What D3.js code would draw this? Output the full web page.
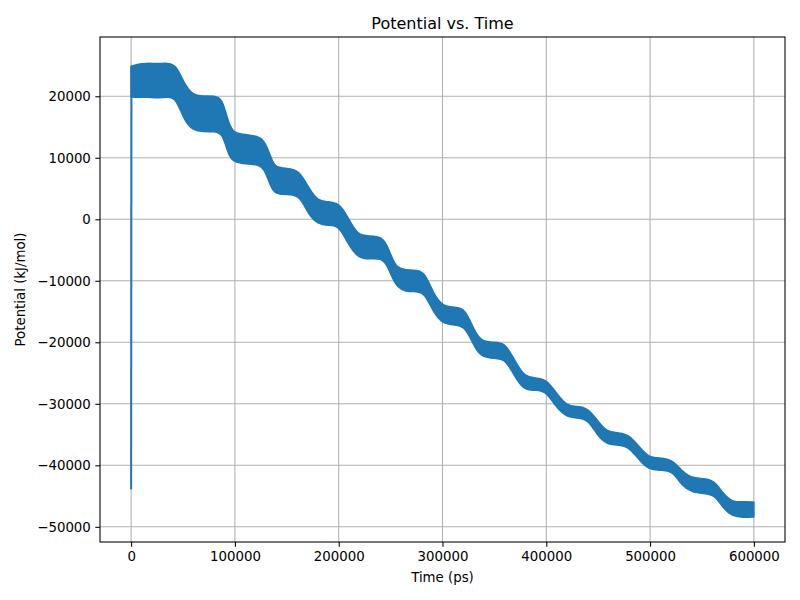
<!DOCTYPE html>
<html>
<head>
<meta charset="utf-8">
<script src="https://cdn.jsdelivr.net/npm/d3@7"></script>
<style>
  body { margin: 0; background: #fff; }
  text { font-family: "DejaVu Sans", sans-serif; fill: #000; }
</style>
</head>
<body>
<svg id="chart" width="800" height="600"></svg>
<script>
// data (time in ps, potential in kJ/mol)
const bandTime = [0, 5000, 15000, 25000, 35000, 43000, 51000, 59000, 70000, 80000,
  88000, 93000, 98000, 110000, 122000, 128000, 134000, 138000, 150000, 162000,
  171000, 180000, 190000, 200000, 208000, 218000, 230000, 242000, 248000, 255000,
  265000, 275000, 283000, 291000, 300000, 312000, 322000, 331000, 338000, 350000,
  360000, 368000, 378000, 390000, 400000, 410000, 420000, 430000, 440000, 449000,
  458000, 470000, 480000, 492000, 500000, 512000, 522000, 530000, 540000, 552000,
  562000, 570000, 579000, 590000, 600000];
const bandUpper = [24900, 25200, 25400, 25300, 25400, 25200, 22100, 20200, 20000, 20100,
  19600, 16100, 14000, 13800, 13500, 12900, 10500, 8400, 8300, 8000,
  5100, 2900, 2900, 2600, 700, -2700, -2700, -2800, -4700, -8000,
  -8200, -8300, -8600, -12000, -14200, -14300, -14500, -18300, -19900, -20000,
  -20100, -22400, -25600, -25800, -26000, -28300, -30400, -30400, -30700, -32600,
  -34600, -34700, -35000, -37500, -38800, -38800, -39200, -40800, -42100, -42100,
  -42500, -44500, -46000, -45900, -46000];
const bandLower = [19900, 19800, 19900, 19700, 19900, 19800, 16100, 14500, 14200, 14300,
  14000, 10800, 9300, 9000, 8900, 8300, 5600, 4100, 4000, 4000,
  700, -800, -1000, -1000, -3700, -6300, -6500, -6300, -7900, -11000,
  -11800, -11700, -12000, -15100, -17000, -17200, -17400, -20900, -22400, -22600,
  -22700, -25000, -27900, -27700, -28000, -30700, -32200, -32300, -32500, -35100,
  -36600, -36700, -37000, -39700, -40700, -40800, -41000, -43200, -44400, -44600,
  -44800, -46900, -48300, -48500, -48400];
// the first frames: the potential jumps up from the start value
const startTime = [0, 300];
const startValue = [-43900, 24900];

const xTicks = [0, 100000, 200000, 300000, 400000, 500000, 600000];
const yTicks = [-50000, -40000, -30000, -20000, -10000, 0, 10000, 20000];

const svg = d3.select("#chart"),
    margin = {top: 37, right: 15, bottom: 58, left: 100},
    width = +svg.attr("width") - margin.left - margin.right,
    height = +svg.attr("height") - margin.top - margin.bottom,
    blue = "#1f77b4",
    fmt = d3.format("d");

const x = d3.scaleLinear().domain([-30000, 630000]).range([0, width]);
const y = d3.scaleLinear().domain([-52470, 29640]).range([height, 0]);

const g = svg.append("g")
    .attr("transform", "translate(" + margin.left + "," + margin.top + ")");

// grid
g.append("g").selectAll("line")
    .data(xTicks)
  .enter().append("line")
    .attr("x1", d => x(d)).attr("x2", d => x(d))
    .attr("y1", 0).attr("y2", height)
    .attr("stroke", "#b0b0b0").attr("stroke-width", 1.07);
g.append("g").selectAll("line")
    .data(yTicks)
  .enter().append("line")
    .attr("y1", d => y(d)).attr("y2", d => y(d))
    .attr("x1", 0).attr("x2", width)
    .attr("stroke", "#b0b0b0").attr("stroke-width", 1.07);

// band of the noisy trace
const rows = bandTime.map((t, i) => ({t: t, hi: bandUpper[i], lo: bandLower[i]}));
const area = d3.area()
    .curve(d3.curveBasis)
    .x(d => x(d.t))
    .y0(d => y(d.lo))
    .y1(d => y(d.hi));
g.append("path")
    .datum(rows)
    .attr("d", area)
    .attr("fill", blue)
    .attr("stroke", blue)
    .attr("stroke-width", 1.5)
    .attr("stroke-linejoin", "round");

const line = d3.line()
    .x((d, i) => x(startTime[i]))
    .y(d => y(d));
g.append("path")
    .datum(startValue)
    .attr("d", line)
    .attr("fill", "none")
    .attr("stroke", blue)
    .attr("stroke-width", 2);

// axes
const xAxis = g.append("g")
    .attr("transform", "translate(0," + height + ")")
    .call(d3.axisBottom(x).tickValues(xTicks).tickFormat(fmt).tickSize(4.67).tickPadding(4.5));
const yAxis = g.append("g")
    .call(d3.axisLeft(y).tickValues(yTicks).tickFormat(fmt).tickSize(4.67).tickPadding(4.5));
[xAxis, yAxis].forEach(a => {
  a.select(".domain").remove();
  a.selectAll("line").attr("stroke", "#000").attr("stroke-width", 1.07);
  a.selectAll("text").attr("font-family", "DejaVu Sans").attr("font-size", 13.33).attr("fill", "#000");
});

// frame
g.append("rect")
    .attr("width", width).attr("height", height)
    .attr("fill", "none").attr("stroke", "#000").attr("stroke-width", 1.07);

// labels
svg.append("text")
    .attr("x", margin.left + width / 2).attr("y", 29)
    .attr("text-anchor", "middle").attr("font-size", 16)
    .text("Potential vs. Time");
svg.append("text")
    .attr("x", margin.left + width / 2).attr("y", 582)
    .attr("text-anchor", "middle").attr("font-size", 13.33)
    .text("Time (ps)");
svg.append("text")
    .attr("transform", "translate(25," + (margin.top + height / 2) + ") rotate(-90)")
    .attr("text-anchor", "middle").attr("font-size", 13.33)
    .text("Potential (kJ/mol)");
</script>
</body>
</html>
